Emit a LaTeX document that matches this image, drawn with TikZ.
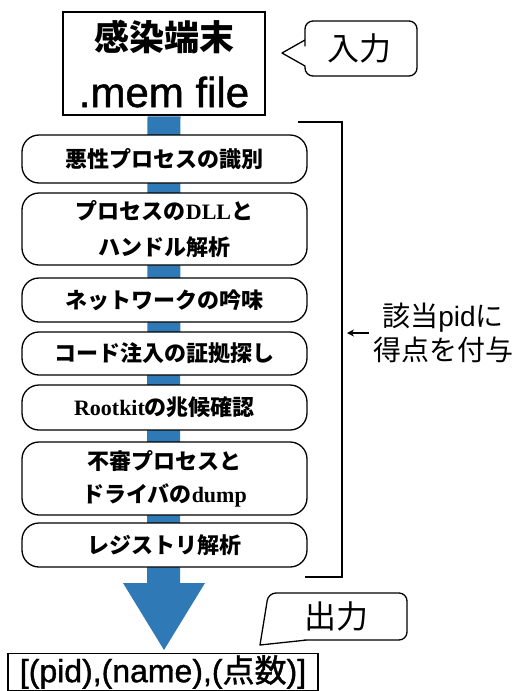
\documentclass[tikz,border=0pt]{standalone}
\usepackage{fontspec}
\setmainfont{Liberation Sans}
\newfontfamily\cjk{Noto Sans CJK JP}
\newfontfamily\cjkmed{Noto Sans CJK JP}[FakeBold=1.2]
\newfontfamily\sansmed{Liberation Sans}[FakeBold=1.2]
\newfontfamily\serb{Liberation Serif}
\usetikzlibrary{arrows.meta}
\definecolor{arrowblue}{RGB}{47,122,182}
\begin{document}
\begin{tikzpicture}[x=1pt,y=-1pt,
  stepbox/.style={draw=black, line width=1.3pt, rounded corners=17pt, fill=white,
    minimum width=285pt, align=center, inner sep=0pt,
    font=\cjk\bfseries\fontsize{22}{36}\selectfont},
  plainbox/.style={draw=black, line width=1.3pt, fill=white, inner sep=0pt},
  bubble/.style={draw=black, line width=1.3pt, fill=white, line join=round},
  bubtext/.style={inner sep=0pt, font=\cjk\fontsize{32}{36}\selectfont}
]
\useasboundingbox (0,0) rectangle (517,691);

% top box
\node[plainbox, minimum width=202pt, minimum height=103pt] (top) at (164,63.5) {};
\node[anchor=base, inner sep=0pt, font=\cjk\bfseries\fontsize{35}{40}\selectfont] (toptxt1) at (164,50) {感染端末};
\node[anchor=base, inner sep=0pt, font=\sansmed\fontsize{42}{46}\selectfont] (toptxt2) at (164,107) {.mem file};

% blue arrow
\fill[arrowblue] ([xshift=-16.5pt,yshift=-0.7pt]top.south) -- ([xshift=16.5pt,yshift=-0.7pt]top.south)
  -- (180,583) -- (205,583) -- (164,650) -- (123,583) -- (147,583) -- cycle;

% steps
\node[stepbox, minimum height=48pt] (s1) at (164.5,159) {悪性プロセスの識別};
\node[stepbox, minimum height=72pt] (s2) at (164.5,229) {プロセスの{\serb\bfseries DLL}と\\ハンドル解析};
\node[stepbox, minimum height=44pt] (s3) at (164.5,300) {ネットワークの吟味};
\node[stepbox, minimum height=43pt] (s4) at (164.5,353.5) {コード注入の証拠探し};
\node[stepbox, minimum height=45pt] (s5) at (164.5,407.5) {{\serb\bfseries Rootkit}の兆候確認};
\node[stepbox, minimum height=73pt, font=\cjk\bfseries\fontsize{22}{33}\selectfont] (s6) at (164.5,478.5) {不審プロセスと\\ドライバの{\serb\bfseries dump}};
\node[stepbox, minimum height=44pt] (s7) at (164.5,545) {レジストリ解析};

% bracket
\coordinate (bt) at (342,122);
\coordinate (bb) at (342,577);
\draw[line width=1.3pt] (298,122) -- (bt) -- (bb) -- (305,577);

% score label
\coordinate (brk) at (347,333);
\node[inner sep=0pt, align=center, font=\fontsize{28}{34}\selectfont] (score) at (443,333)
  {{\cjk 該当}pid{\cjk に}\\{\cjk 得点を付与}};
\draw[-{Stealth[length=7pt,width=7pt]}, line width=1.3pt] ([xshift=-4pt]score.west) -- (brk);

% input bubble
\node[bubtext] (inb) at (359,48) {入力};
\draw[bubble] (305,66) -- (305,68) [rounded corners=8pt] -- (305,76) -- (417,76) -- (417,21) -- (305,21) -- (305,38) [sharp corners] -- (305,40) -- (282,53) -- cycle;
\node[bubtext] at (inb) {入力};

% output box
\node[plainbox, minimum width=310pt, minimum height=37pt, font=\sansmed\fontsize{32}{36}\selectfont] (out) at (163,672)
  {[(pid),(name),({\cjkmed 点数})]};

% output bubble
\node[bubtext] (outb) at (336,616) {出力};
\draw[bubble] (307,640) -- (260,645) -- (267,602) [rounded corners=8pt] -- (268,593) -- (407,593) -- (407,640) -- (312,640) [sharp corners] -- cycle;
\node[bubtext] at (outb) {出力};
\end{tikzpicture}
\end{document}
